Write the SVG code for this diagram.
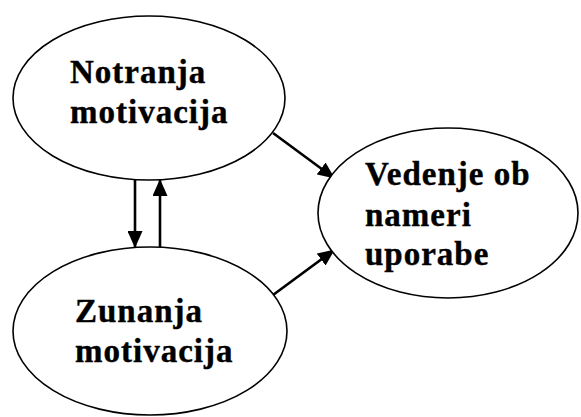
<svg xmlns="http://www.w3.org/2000/svg" width="581" height="417" viewBox="0 0 581 417">
  <style>
    .node ellipse { fill: #ffffff; stroke: #000000; stroke-width: 1.6; }
    .node text { font-family: "Liberation Serif", "Times New Roman", serif; font-weight: bold; font-size: 33px; letter-spacing: 1px; fill: #000000; stroke: #000000; stroke-width: 0.4; }
    .edge { stroke: #000000; stroke-width: 2.6; fill: none; marker-end: url(#arrow); }
  </style>
  <defs>
    <marker id="arrow" markerWidth="17" markerHeight="15" refX="16" refY="7.5" orient="auto" markerUnits="userSpaceOnUse">
      <path d="M0,0 L17,7.5 L0,15 Z" fill="#000000"/>
    </marker>
  </defs>
  <rect width="581" height="417" fill="#ffffff"/>

  <g id="connectors">
    <line class="edge" x1="135" y1="179" x2="135" y2="247"/>
    <line class="edge" x1="160" y1="247" x2="160" y2="180"/>
    <line class="edge" x1="273" y1="133" x2="334" y2="178"/>
    <line class="edge" x1="273" y1="295" x2="334" y2="250"/>
  </g>

  <g id="notranja" class="node">
    <ellipse cx="149" cy="98" rx="136" ry="82"/>
    <text x="70" y="83">Notranja</text>
    <text x="70" y="123">motivacija</text>
  </g>

  <g id="zunanja" class="node">
    <ellipse cx="150" cy="331" rx="137" ry="84"/>
    <text x="75" y="322">Zunanja</text>
    <text x="75" y="362">motivacija</text>
  </g>

  <g id="vedenje" class="node">
    <ellipse cx="448" cy="213" rx="130" ry="85"/>
    <text x="365" y="185">Vedenje ob</text>
    <text x="365" y="226">nameri</text>
    <text x="365" y="265">uporabe</text>
  </g>
</svg>
